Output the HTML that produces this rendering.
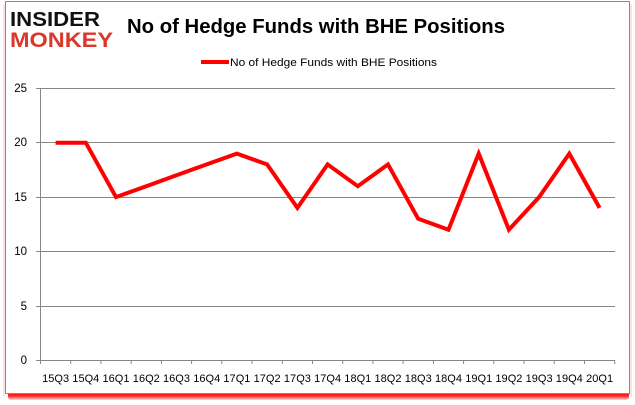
<!DOCTYPE html>
<html><head><meta charset="utf-8"><style>
html,body{margin:0;padding:0;background:#fff;}
body{width:635px;height:405px;overflow:hidden;position:relative;font-family:"Liberation Sans",sans-serif;}
.shadowb{position:absolute;left:8px;top:392px;width:621px;height:8px;background:linear-gradient(to bottom,rgba(255,0,0,1) 0%,rgba(255,0,0,0.85) 50%,rgba(255,0,0,0.15) 100%);border-radius:0 0 3px 3px;}
.shadowr{position:absolute;left:629px;top:4px;width:3px;height:392px;background:rgba(255,170,170,0.35);}
.shadowl{position:absolute;left:3px;top:4px;width:2px;height:392px;background:rgba(255,170,170,0.35);}
.frame{position:absolute;left:5px;top:1px;width:623px;height:391px;border:1px solid #8a8a8a;background:#fff;}
svg{position:absolute;left:0;top:0;}
</style></head><body>
<div class="shadowb"></div>
<div class="shadowr"></div>
<div class="shadowl"></div>
<div class="frame"></div>
<svg width="635" height="405" viewBox="0 0 635 405" xmlns="http://www.w3.org/2000/svg">
  <!-- logo -->
  <text x="10" y="26" font-family="Liberation Sans" font-weight="bold" font-size="20" fill="#111" textLength="90" lengthAdjust="spacingAndGlyphs">INSIDER</text>
  <text x="10" y="47" font-family="Liberation Sans" font-weight="bold" font-size="21" fill="#d9392b" textLength="103" lengthAdjust="spacingAndGlyphs">MONKEY</text>
  <!-- title -->
  <text x="127" y="33" font-family="Liberation Sans" font-weight="bold" font-size="20" fill="#000" textLength="378" lengthAdjust="spacingAndGlyphs">No of Hedge Funds with BHE Positions</text>
  <!-- legend -->
  <line x1="201" y1="62" x2="229" y2="62" stroke="#ff0000" stroke-width="4"/>
  <text x="230" y="66" font-family="Liberation Sans" font-size="11" fill="#000" textLength="207" lengthAdjust="spacingAndGlyphs">No of Hedge Funds with BHE Positions</text>
  <!-- grid -->
  <g stroke="#868686" stroke-width="1">
    <line x1="36" y1="88.5" x2="615" y2="88.5"/>
    <line x1="36" y1="142.5" x2="615" y2="142.5"/>
    <line x1="36" y1="197.5" x2="615" y2="197.5"/>
    <line x1="36" y1="251.5" x2="615" y2="251.5"/>
    <line x1="36" y1="306.5" x2="615" y2="306.5"/>
    <line x1="36" y1="360.5" x2="615" y2="360.5"/>
    <line x1="40.5" y1="88" x2="40.5" y2="361"/>
  </g>
  <g font-family="Liberation Sans" font-size="11.5" fill="#000" text-anchor="end">
    <text x="27" y="92">25</text>
    <text x="27" y="146">20</text>
    <text x="27" y="201">15</text>
    <text x="27" y="255">10</text>
    <text x="27" y="310">5</text>
    <text x="27" y="364">0</text>
  </g>
  <g stroke="#868686" stroke-width="1">
    <line x1="40.5" y1="360" x2="40.5" y2="364"/>
    <line x1="70.7" y1="360" x2="70.7" y2="364"/>
    <line x1="100.9" y1="360" x2="100.9" y2="364"/>
    <line x1="131.2" y1="360" x2="131.2" y2="364"/>
    <line x1="161.4" y1="360" x2="161.4" y2="364"/>
    <line x1="191.6" y1="360" x2="191.6" y2="364"/>
    <line x1="221.8" y1="360" x2="221.8" y2="364"/>
    <line x1="252.0" y1="360" x2="252.0" y2="364"/>
    <line x1="282.3" y1="360" x2="282.3" y2="364"/>
    <line x1="312.5" y1="360" x2="312.5" y2="364"/>
    <line x1="342.7" y1="360" x2="342.7" y2="364"/>
    <line x1="372.9" y1="360" x2="372.9" y2="364"/>
    <line x1="403.1" y1="360" x2="403.1" y2="364"/>
    <line x1="433.4" y1="360" x2="433.4" y2="364"/>
    <line x1="463.6" y1="360" x2="463.6" y2="364"/>
    <line x1="493.8" y1="360" x2="493.8" y2="364"/>
    <line x1="524.0" y1="360" x2="524.0" y2="364"/>
    <line x1="554.2" y1="360" x2="554.2" y2="364"/>
    <line x1="584.5" y1="360" x2="584.5" y2="364"/>
    <line x1="614.7" y1="360" x2="614.7" y2="364"/>
  </g>
  <g font-family="Liberation Sans" font-size="11" fill="#000" text-anchor="middle" lengthAdjust="spacingAndGlyphs">
    <text x="55.6" y="382" textLength="27">15Q3</text>
    <text x="85.8" y="382" textLength="27">15Q4</text>
    <text x="116.0" y="382" textLength="27">16Q1</text>
    <text x="146.3" y="382" textLength="27">16Q2</text>
    <text x="176.5" y="382" textLength="27">16Q3</text>
    <text x="206.7" y="382" textLength="27">16Q4</text>
    <text x="236.9" y="382" textLength="27">17Q1</text>
    <text x="267.1" y="382" textLength="27">17Q2</text>
    <text x="297.4" y="382" textLength="27">17Q3</text>
    <text x="327.6" y="382" textLength="27">17Q4</text>
    <text x="357.8" y="382" textLength="27">18Q1</text>
    <text x="388.0" y="382" textLength="27">18Q2</text>
    <text x="418.2" y="382" textLength="27">18Q3</text>
    <text x="448.5" y="382" textLength="27">18Q4</text>
    <text x="478.7" y="382" textLength="27">19Q1</text>
    <text x="508.9" y="382" textLength="27">19Q2</text>
    <text x="539.1" y="382" textLength="27">19Q3</text>
    <text x="569.3" y="382" textLength="27">19Q4</text>
    <text x="599.6" y="382" textLength="27">20Q1</text>
  </g>
  <!-- series -->
  <polyline fill="none" stroke="#ff0000" stroke-width="4" stroke-linejoin="miter"
    points="55.6,142.7 85.8,142.7 116.0,197.1 146.3,186.2 176.5,175.3 206.7,164.4 236.9,153.6 267.1,164.4 297.4,207.9 327.6,164.4 357.8,186.2 388.0,164.4 418.2,218.8 448.5,229.7 478.7,153.6 508.9,229.7 539.1,197.1 569.3,153.6 599.6,207.9"/>
</svg>
</body></html>
